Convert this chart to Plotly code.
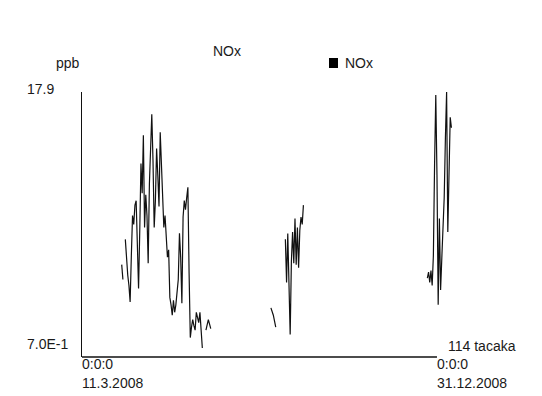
import pandas as pd
import plotly.graph_objects as go

# ---- data (daily NOx, ppb) ----
seg_starts = ["2008-04-13", "2008-04-16", "2008-06-22", "2008-08-15", "2008-08-27", "2008-12-23"]
seg_values = [
    [6.3, 5.3],
    [8.0, 6.4, 5.6, 4.9, 3.8, 6.9, 9.6, 9.0, 10.3, 10.6,
     8.0, 4.7, 8.6, 13.1, 11.1, 15.0, 8.8, 11.0, 9.6, 6.4,
     11.7, 14.5, 16.4, 13.3, 8.8, 10.6, 14.1, 12.3, 10.2, 15.2,
     13.3, 11.8, 8.8, 9.6, 8.0, 6.8, 7.3, 4.1, 3.6, 2.9,
     3.9, 3.1, 3.6, 4.4, 5.3, 8.4, 6.8, 3.7, 9.5, 10.6,
     10.0, 10.8, 11.5, 5.7, 1.4, 2.1, 2.6, 2.2, 1.9, 3.1,
     2.7, 2.4, 3.1, 1.6, 0.7],
    [1.9, 2.2, 2.6, 2.3, 2.0],
    [3.4, 3.2, 2.9, 2.5, 2.1],
    [8.0, 5.1, 8.4, 4.3, 1.6, 6.5, 8.5, 6.4, 9.4, 6.3,
     8.8, 6.1, 8.6, 9.5, 9.0, 10.3],
    [5.4, 5.8, 5.1, 5.9, 4.9, 6.9, 13.0, 17.7, 12.3, 3.6,
     9.4, 4.6, 6.7, 8.8, 10.8, 14.8, 17.9, 8.5, 13.0, 16.2,
     15.5],
]
title = "NOx"
series_name = "NOx"
y_unit = "ppb"
y_max_label = "17.9"
y_min_label = "7.0E-1"
x_start_label = ["0:0:0", "11.3.2008"]
x_end_label = ["0:0:0", "31.12.2008"]
count_label = "114 tacaka"
x_start = "2008-03-11"
x_end = "2008-12-31"

# build x/y with None between segments (gaps)
xs, ys = [], []
for start, vals in zip(seg_starts, seg_values):
    dates = pd.date_range(start, periods=len(vals), freq="D")
    xs.extend(list(dates))
    ys.extend(vals)
    xs.append(None)
    ys.append(None)

W, H = 542, 396
L, R, T, B = 82, 462, 92, 357   # plot area in pixels

def px(x):
    return (x - L) / (R - L)

def py(y):
    return (B - y) / (B - T)

fig = go.Figure()
fig.add_trace(go.Scatter(x=xs, y=ys, mode="lines", connectgaps=False,
                         line=dict(color="#111111", width=1.2),
                         showlegend=False, hoverinfo="skip"))

FONT = dict(family="Liberation Sans, Arial, sans-serif", size=14, color="#1a1a1a")

fig.update_layout(
    width=W, height=H,
    margin=dict(l=L, r=W - R, t=T, b=H - B, pad=0),
    paper_bgcolor="white", plot_bgcolor="white",
    showlegend=False,
    font=FONT,
    xaxis=dict(type="date", range=[x_start, "2009-01-20 19:00"],
               showgrid=False, zeroline=False, showticklabels=False,
               ticks="", showline=False),
    yaxis=dict(range=[0.095, 17.9], showgrid=False, zeroline=False,
               showticklabels=False, ticks="", showline=True,
               linecolor="#111111", linewidth=1),
)

# x axis line from start to end date
fig.add_shape(type="line", xref="x", yref="paper", x0=x_start, x1=x_end,
              y0=0, y1=0, line=dict(color="#111111", width=1.3))

# legend square
fig.add_shape(type="rect", xref="paper", yref="paper",
              x0=px(329), x1=px(338), y0=py(68), y1=py(58),
              fillcolor="#000000", line=dict(width=0))

def ann(text, x, y, xanchor="left", size=14):
    fig.add_annotation(text=text, xref="paper", yref="paper", x=px(x), y=py(y),
                       xanchor=xanchor, yanchor="middle", showarrow=False,
                       font=dict(family=FONT["family"], size=size, color=FONT["color"]),
                       borderpad=0)

ann(title, 212, 51)
ann(series_name, 344, 63)
ann(y_unit, 55, 63)
ann(y_max_label, 26, 89)
ann(y_min_label, 26, 344)
ann(x_start_label[0], 81, 364)
ann(x_start_label[1], 81, 383)
ann(x_end_label[0], 436, 364)
ann(x_end_label[1], 436, 383)
ann(count_label, 447, 346)

fig.write_html("out.html", config={"displayModeBar": False, "staticPlot": True},
               post_script="document.body.style.margin='0';document.body.style.padding='0';")
